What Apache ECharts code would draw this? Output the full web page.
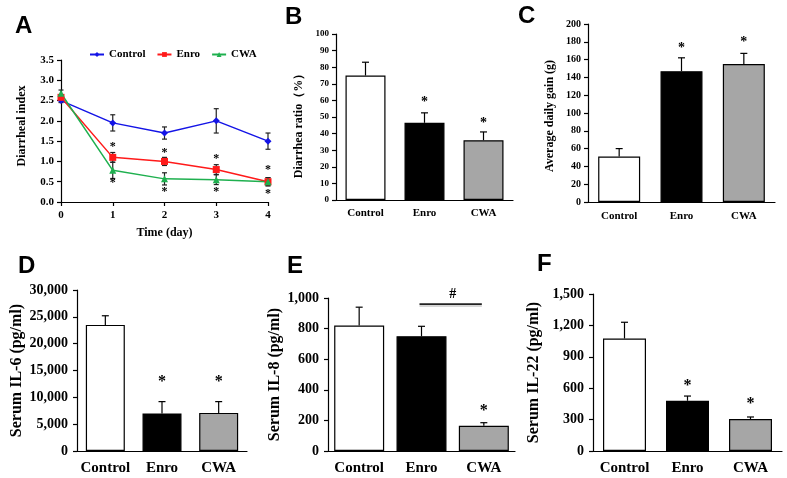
<!DOCTYPE html>
<html><head><meta charset="utf-8">
<script src="https://cdn.jsdelivr.net/npm/echarts@6/dist/echarts.min.js"></script>
<style>html,body{margin:0;padding:0;background:#fff}#c{width:787px;height:478px}</style>
</head><body><div id="c"></div>
<script>
// ---------- DATA ----------
const timeDays = [0, 1, 2, 3, 4];
const controlIndex = [2.5, 1.95, 1.7, 2.0, 1.5];
const controlIndexErr = [0.05, 0.2, 0.15, 0.3, 0.2];
const enroIndex = [2.58, 1.1, 1.0, 0.8, 0.5];
const enroIndexErr = [0.05, 0.12, 0.1, 0.12, 0.1];
const cwaIndex = [2.68, 0.78, 0.57, 0.55, 0.5];
const cwaIndexErr = [0.08, 0.2, 0.15, 0.12, 0.1];
const starsAUpper = [null, 1.37, 1.2, 1.05, 0.78];
const starsALower = [null, 0.47, 0.26, 0.25, 0.2];

const groups = ['Control', 'Enro', 'CWA'];
const diarrheaRatio = [75, 46.5, 36];
const diarrheaRatioErr = [8, 6, 5];
const diarrheaStars = [null, 58.5, 46];

const dailyGain = [51, 147, 155];
const dailyGainErr = [9, 15, 12];
const dailyGainStars = [null, 173, 179];

const il6 = [23500, 7000, 7100];
const il6Err = [1700, 2200, 2100];
const il6Stars = [null, 12800, 12800];

const il8 = [820, 750, 165];
const il8Err = [120, 65, 20];
const il8Stars = [null, null, 265];
const il8Hash = [1, 2, 960]; // from group 1 to group 2 at value

const il22 = [1075, 480, 305];
const il22Err = [155, 45, 20];
const il22Stars = [null, 620, 450];

// ---------- STYLE ----------
const SERIF = '"Liberation Serif","Times New Roman",serif';
const barColors = ['#ffffff', '#000000', '#a6a6a6'];
const lineColors = {Control: '#1414e6', Enro: '#ff1a1a', CWA: '#1fb04f'};

const chart = echarts.init(document.getElementById('c'));

const grids = [
  {left: 61, top: 60, width: 207, height: 142},
  {left: 336, top: 34, width: 177, height: 166},
  {left: 588, top: 24, width: 187, height: 178},
  {left: 77, top: 290, width: 170, height: 161},
  {left: 328, top: 298, width: 187, height: 153},
  {left: 593, top: 294, width: 189, height: 157}
];

function fmtThousands(v) { return v.toLocaleString('en-US'); }

function yAxis(idx, max, interval, name, fs, nameFs, nameGap, fmt, margin, namePad) {
  return {
    type: 'value', gridIndex: idx, min: 0, max: max, interval: interval,
    name: name, nameLocation: 'middle', nameGap: nameGap,
    nameTextStyle: {fontFamily: SERIF, fontWeight: 'bold', fontSize: nameFs, color: '#000', padding: namePad || 0},
    axisLine: {show: true, lineStyle: {color: '#000', width: 1.2}},
    axisTick: {show: true, length: 4, lineStyle: {color: '#000', width: 1.2}},
    axisLabel: {fontFamily: SERIF, fontWeight: 'bold', fontSize: fs, color: '#000', margin: margin || 7, formatter: fmt},
    splitLine: {show: false}
  };
}
function xCat(idx, fs, margin) {
  return {
    type: 'category', gridIndex: idx, data: groups,
    axisLine: {show: true, lineStyle: {color: '#000', width: 1.2}},
    axisTick: {show: false},
    axisLabel: {fontFamily: SERIF, fontWeight: 'bold', fontSize: fs, color: '#000', margin: margin, interval: 0}
  };
}

const xAxes = [
  {
    type: 'value', gridIndex: 0, min: 0, max: 4, interval: 1,
    name: 'Time (day)', nameLocation: 'middle', nameGap: 25,
    nameTextStyle: {fontFamily: SERIF, fontWeight: 'bold', fontSize: 12, color: '#000'},
    axisLine: {show: true, lineStyle: {color: '#000', width: 1.2}},
    axisTick: {show: true, length: 4, lineStyle: {color: '#000', width: 1.2}},
    axisLabel: {fontFamily: SERIF, fontWeight: 'bold', fontSize: 11, color: '#000', margin: 8},
    splitLine: {show: false}
  },
  xCat(1, 11, 8), xCat(2, 11, 9), xCat(3, 15, 10), xCat(4, 15, 10), xCat(5, 15, 10)
];
const yAxes = [
  yAxis(0, 3.5, 0.5, 'Diarrheal index', 11, 12, 33, v => v.toFixed(1), 7, [0, 0, 0, 10]),
  yAxis(1, 100, 10, 'Diarrhea ratio（%）', 9, 12, 31, undefined, 7, [0, 12, 0, 0]),
  yAxis(2, 200, 20, 'Average daily gain (g)', 10, 12, 32, undefined, 7, [0, 6, 0, 0]),
  yAxis(3, 30000, 5000, 'Serum IL-6 (pg/ml)', 14, 16, 52, fmtThousands, 9),
  yAxis(4, 1000, 200, 'Serum IL-8 (pg/ml)', 14, 16, 45, fmtThousands, 9),
  yAxis(5, 1500, 300, 'Serum IL-22 (pg/ml)', 14, 16, 51, fmtThousands, 9)
];

function errRender(both, capHalf, color) {
  return function (params, api) {
    const x = api.value(0), y = api.value(1), e = api.value(2);
    const top = api.coord([x, y + e]);
    const bot = api.coord([x, both ? y - e : y]);
    const children = [
      {type: 'line', shape: {x1: top[0], y1: top[1], x2: bot[0], y2: bot[1]}, style: {stroke: color, lineWidth: 1.2}},
      {type: 'line', shape: {x1: top[0] - capHalf, y1: top[1], x2: top[0] + capHalf, y2: top[1]}, style: {stroke: color, lineWidth: 1.2}}
    ];
    if (both) children.push({type: 'line', shape: {x1: bot[0] - capHalf, y1: bot[1], x2: bot[0] + capHalf, y2: bot[1]}, style: {stroke: color, lineWidth: 1.2}});
    return {type: 'group', children: children};
  };
}
function textRender(txt, size) {
  return function (params, api) {
    const p = api.coord([api.value(0), api.value(1)]);
    return {type: 'text', x: p[0], y: p[1], style: {text: txt, fill: '#000', font: 'bold ' + size + 'px ' + SERIF, align: 'center', verticalAlign: 'middle'}};
  };
}

const series = [];
// Panel A lines
[['Control', controlIndex, controlIndexErr, 'diamond', 7],
 ['Enro', enroIndex, enroIndexErr, 'rect', 7],
 ['CWA', cwaIndex, cwaIndexErr, 'triangle', 7]].forEach(([n, vals, errs, sym, sz]) => {
  series.push({
    type: 'custom', xAxisIndex: 0, yAxisIndex: 0, z: 3,
    renderItem: errRender(true, 2.5, '#222'),
    data: timeDays.map((d, i) => [d, vals[i], errs[i]])
  });
  series.push({
    name: n, type: 'line', xAxisIndex: 0, yAxisIndex: 0, z: 4,
    symbol: sym, symbolSize: sz, color: lineColors[n],
    lineStyle: {width: 1.5, color: lineColors[n]},
    data: timeDays.map((d, i) => [d, vals[i]])
  });
});
[starsAUpper, starsALower].forEach(arr => {
  series.push({
    type: 'custom', xAxisIndex: 0, yAxisIndex: 0, z: 5,
    renderItem: textRender('*', 12),
    data: timeDays.map((d, i) => [d, arr[i]]).filter(p => p[1] != null)
  });
});

// Bar panels
const barPanels = [
  [1, diarrheaRatio, diarrheaRatioErr, diarrheaStars, 40, 14],
  [2, dailyGain, dailyGainErr, dailyGainStars, 42, 14],
  [3, il6, il6Err, il6Stars, 39, 16],
  [4, il8, il8Err, il8Stars, 50, 16],
  [5, il22, il22Err, il22Stars, 43, 16]
];
barPanels.forEach(([g, vals, errs, stars, bw, ss]) => {
  series.push({
    type: 'bar', xAxisIndex: g, yAxisIndex: g, barWidth: bw, z: 2,
    data: vals.map((v, i) => ({value: v, itemStyle: {color: barColors[i], borderColor: '#000', borderWidth: 1.2}}))
  });
  series.push({
    type: 'custom', xAxisIndex: g, yAxisIndex: g, z: 3,
    renderItem: errRender(false, 3.5, '#000'),
    data: vals.map((v, i) => [i, v, errs[i]])
  });
  series.push({
    type: 'custom', xAxisIndex: g, yAxisIndex: g, z: 4,
    renderItem: textRender('*', ss),
    data: stars.map((s, i) => [i, s]).filter(p => p[1] != null)
  });
});
// Hash annotation on panel E
series.push({
  type: 'custom', xAxisIndex: 4, yAxisIndex: 4, z: 4,
  renderItem: function (params, api) {
    const a = api.coord([api.value(0), api.value(2)]);
    const b = api.coord([api.value(1), api.value(2)]);
    return {type: 'group', children: [
      {type: 'line', shape: {x1: a[0] - 2, y1: a[1] + 2, x2: b[0] - 2, y2: b[1] + 2}, style: {stroke: '#c8c8c8', lineWidth: 1.5}},
      {type: 'line', shape: {x1: a[0] - 2, y1: a[1], x2: b[0] - 2, y2: b[1]}, style: {stroke: '#222', lineWidth: 1.6}},
      {type: 'text', x: (a[0] + b[0]) / 2, y: a[1] - 3, style: {text: '#', fill: '#000', font: 'bold 14px ' + SERIF, align: 'center', verticalAlign: 'bottom'}}
    ]};
  },
  data: [il8Hash]
});

const letters = [['A', 15, 14], ['B', 285, 5], ['C', 518, 4], ['D', 18, 254], ['E', 287, 254], ['F', 537, 252]];

chart.setOption({
  animation: false,
  backgroundColor: '#fff',
  grid: grids,
  xAxis: xAxes,
  yAxis: yAxes,
  legend: {
    data: ['Control', 'Enro', 'CWA'], left: 84, top: 44, itemWidth: 14, itemHeight: 6, itemGap: 11,
    textStyle: {fontFamily: SERIF, fontWeight: 'bold', fontSize: 11, color: '#000'}
  },
  graphic: letters.map(([t, x, y]) => ({
    type: 'text', left: x, top: y,
    style: {text: t, font: 'bold 24px "Liberation Sans", Arial, sans-serif', fill: '#000'}
  })),
  series: series
});
</script></body></html>
